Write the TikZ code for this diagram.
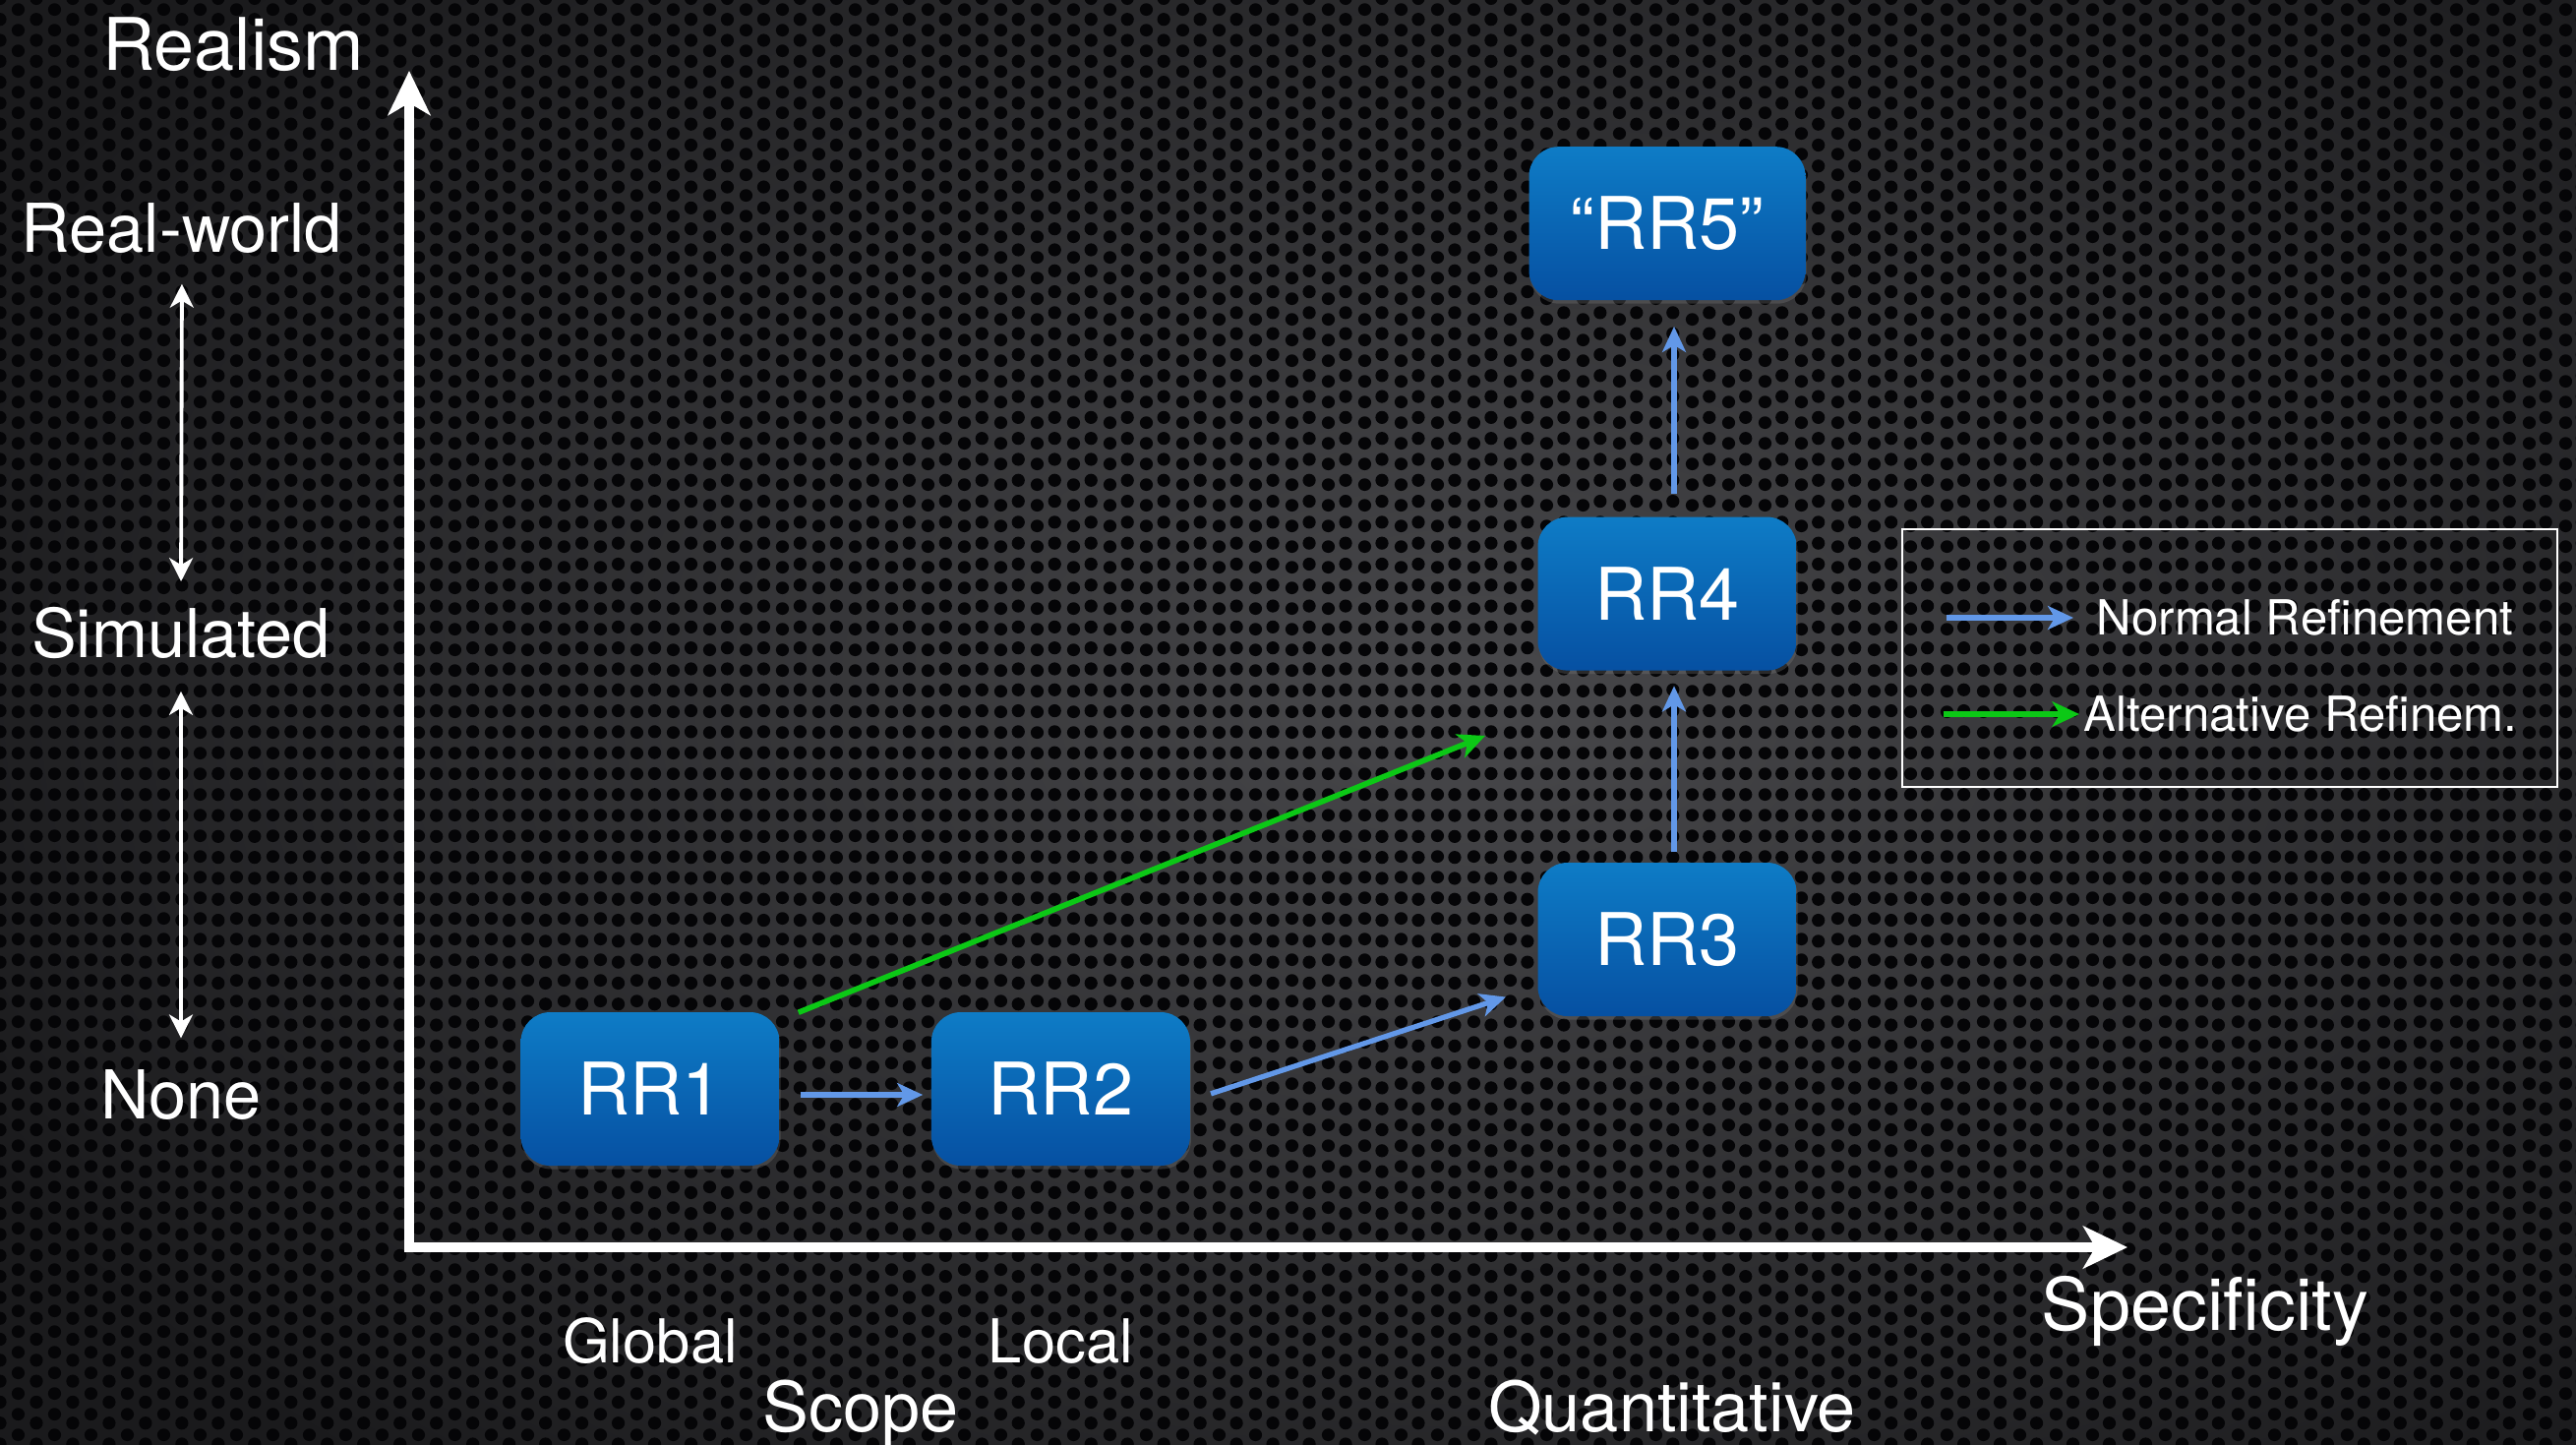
\documentclass[tikz,border=0pt]{standalone}
\usepackage{fontspec}
\setmainfont{TeX Gyre Heros}
\usepackage{tikz}
\usetikzlibrary{arrows.meta}
\usetikzlibrary{shadows,patterns}
\usetikzlibrary{positioning}

\definecolor{nodetop}{RGB}{14,124,198}
\definecolor{nodebot}{RGB}{6,80,162}
\definecolor{normblue}{RGB}{98,152,232}
\definecolor{altgreen}{RGB}{12,200,22}
\definecolor{bgmid}{RGB}{72,72,75}
\definecolor{bgedge}{RGB}{26,26,28}
\definecolor{hole}{RGB}{5,5,7}

\pgfdeclarepatternformonly{meshA}{\pgfpointorigin}{\pgfqpoint{10.52pt}{6.06pt}}{\pgfqpoint{10.52pt}{6.06pt}}%
  {\pgfpathcircle{\pgfqpoint{5.26pt}{3.03pt}}{1.88pt}\pgfusepath{fill}}
\pgfdeclarepatternformonly{meshB}{\pgfqpoint{-5.26pt}{-3.03pt}}{\pgfqpoint{5.26pt}{3.03pt}}{\pgfqpoint{10.52pt}{6.06pt}}%
  {\pgfpathcircle{\pgfpointorigin}{1.88pt}\pgfusepath{fill}}

\begin{document}
\begin{tikzpicture}
          [every node/.style={text=white, inner sep=0pt},
           rrbox/.style={rounded corners=0.3cm, top color=nodetop, bottom color=nodebot,
                      minimum width=2.63cm, minimum height=1.56cm,
                      font=\fontsize{21}{25}\selectfont,
                      drop shadow={shadow xshift=0.01cm, shadow yshift=-0.035cm, opacity=0.3}},
           titlelbl/.style={font=\fontsize{21}{25}\selectfont},
           sidelbl/.style={font=\fontsize{19.5}{23}\selectfont},
           biglbl/.style={font=\fontsize{20}{24}\selectfont},
           smalllbl/.style={font=\fontsize{17.5}{21}\selectfont},
           leglbl/.style={font=\fontsize{14}{17}\selectfont},
           normref/.style={draw=normblue, line width=1.5pt, -{Stealth[length=7.4pt, width=6.8pt, inset=2pt]}},
           altref/.style={draw=altgreen, line width=1.6pt, -{Stealth[length=7.8pt, width=7.2pt, inset=2.2pt]}},
           axisline/.style={draw=white, line width=2.8pt,
                        {Stealth[length=12.8pt, width=12.2pt, inset=3.5pt]}-{Stealth[length=12.8pt, width=12.2pt, inset=3.5pt]}},
           spanarrow/.style={draw=white, line width=1.1pt,
                         {Stealth[length=6.8pt, width=6.8pt, inset=2pt]}-{Stealth[length=6.8pt, width=6.8pt, inset=2pt]}}]
          \useasboundingbox (0,0) rectangle (26.19,14.68);

          % perforated backdrop
          \fill[bgedge] (-0.2,-0.2) rectangle (26.4,14.9);
          \shade[inner color=bgmid, outer color=bgedge] (15,7.6) ellipse (17 and 10.5);
          \fill[pattern=meshA, pattern color=hole] (-0.2,-0.2) rectangle (26.4,14.9);
          \fill[pattern=meshB, pattern color=hole] (-0.2,-0.2) rectangle (26.4,14.9);

          \coordinate (O) at (4.16,2.00);
          \coordinate (ytip) at (4.16,13.96);
          \coordinate (xtip) at (21.63,2.00);
          \draw[axisline] (ytip) -- (O) -- (xtip);

          \node (realism) [titlelbl, anchor=base] at (2.37,13.96) {Realism};
          \node (spec) [titlelbl, anchor=base] at (22.42,1.16) {Specificity};

          \node (rw) [sidelbl, anchor=base] at (1.85,12.11) {Real-world};
          \node (sim) [sidelbl, anchor=base] at (1.84,8.00) {Simulated};
          \node (none) [sidelbl, anchor=base] at (1.84,3.31) {None};

          \draw[spanarrow, shorten <=0.30cm, shorten >=0.25cm] (rw.south) -- (sim.north);
          \draw[spanarrow, shorten <=0.33cm, shorten >=0.31cm] (sim.south) -- (none.north);

          \node (rr1) [rrbox] at (6.61,3.61) {RR1};
          \node (rr2) [rrbox, right = 1.53cm of rr1] {RR2};
          \node (rr3) [rrbox] at (16.95,5.13) {RR3};
          \node (rr4) [rrbox, above = 1.94cm of rr3] {RR4};
          \node (rr5) [rrbox, minimum width=2.81cm, above = 2.19cm of rr4] {``RR5''};

          \node (global) [smalllbl, anchor=base] at (rr1 |- 0,0.83) {Global};
          \node (local) [smalllbl, anchor=base] at (rr2 |- 0,0.83) {Local};
          \node (scope) [biglbl, anchor=base] at (8.75,0.13) {Scope};
          \node (quant) [biglbl, anchor=base] at (17.00,0.13) {Quantitative};

          \draw[normref, shorten <=0.205cm, shorten >=0.08cm] ([yshift=-0.06cm]rr1.east) -- ([yshift=-0.06cm]rr2.west);
          \draw[normref, shorten <=0.215cm, shorten >=0.335cm] (rr2.-5) -- (rr3.200);
          \draw[normref, shorten <=0.10cm, shorten >=0.15cm] ([xshift=0.07cm]rr3.north) -- ([xshift=0.07cm]rr4.south);
          \draw[normref, shorten <=0.23cm, shorten >=0.26cm] ([xshift=0.07cm]rr4.north) -- ([xshift=0.07cm]rr5.south);

          \coordinate (altend) at (15.10,7.20);
          \draw[altref, shorten <=0.20cm] (rr1.28) -- (altend);

          % legend
          \node (legend) [draw=white, line width=0.7pt, minimum width=6.66cm, minimum height=2.62cm] at (22.67,7.99) {};
          \node (lnorm) [leglbl, anchor=base west] at (21.31,8.23) {Normal Refinement};
          \node (lalt) [leglbl, anchor=base west] at (21.18,7.25) {Alternative Refinem.};
          \coordinate (lnormstart) at (19.79,8.40);
          \coordinate (laltstart) at (19.76,7.42);
          \draw[normref, shorten >=0.23cm] (lnormstart) -- (lnormstart -| lnorm.west);
          \draw[altref, shorten >=0.04cm] (laltstart) -- (laltstart -| lalt.west);
        \end{tikzpicture}
\end{document}
